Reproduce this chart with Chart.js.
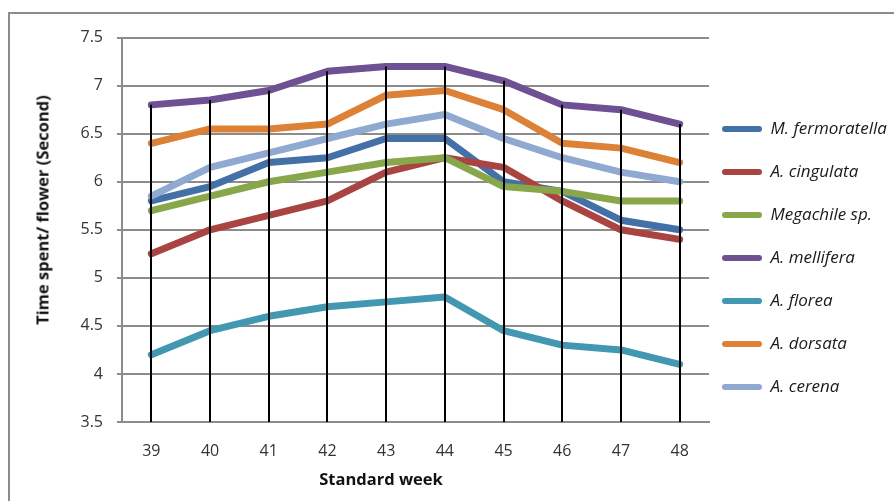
<!DOCTYPE html>
<html>
<head>
<meta charset="utf-8">
<script src="https://cdn.jsdelivr.net/npm/chart.js@4.4.1/dist/chart.umd.min.js"></script>
<style>
  html, body { margin: 0; padding: 0; background: #fff; overflow: hidden; }
  #frame { position: absolute; left: 8px; top: 12px; width: 1000px; height: 600px; border: 2px solid #8c8c8c; box-sizing: border-box; }
  #wrap { position: absolute; left: 10px; top: 14px; width: 884px; height: 487px; }
  .axis-title { position: absolute; font: bold 16.5px 'Open Sans', sans-serif; color: #111; white-space: nowrap; }
  #xTitle { left: 381px; top: 478px; transform: translate(-50%, -50%); }
  #yTitle { left: 42px; top: 210px; transform: translate(-50%, -50%) rotate(-90deg); }
</style>
</head>
<body>
<div id="frame"></div>
<div id="wrap"><canvas id="chart"></canvas></div>
<div class="axis-title" id="xTitle">Standard week</div>
<div class="axis-title" id="yTitle">Time spent/ flower (Second)</div>
<script>
// weeks on the x axis
const weeks = ['39', '40', '41', '42', '43', '44', '45', '46', '47', '48'];

// time spent per flower (seconds)
const mFermoratella = [5.8, 5.95, 6.2, 6.25, 6.45, 6.45, 6.0, 5.9, 5.6, 5.5];
const aCingulata    = [5.25, 5.5, 5.65, 5.8, 6.1, 6.25, 6.15, 5.8, 5.5, 5.4];
const megachile     = [5.7, 5.85, 6.0, 6.1, 6.2, 6.25, 5.95, 5.9, 5.8, 5.8];
const aMellifera    = [6.8, 6.85, 6.95, 7.15, 7.2, 7.2, 7.05, 6.8, 6.75, 6.6];
const aFlorea       = [4.2, 4.45, 4.6, 4.7, 4.75, 4.8, 4.45, 4.3, 4.25, 4.1];
const aDorsata      = [6.4, 6.55, 6.55, 6.6, 6.9, 6.95, 6.75, 6.4, 6.35, 6.2];
const aCerena       = [5.85, 6.15, 6.3, 6.45, 6.6, 6.7, 6.45, 6.25, 6.1, 6.0];

const seriesNames = ['M. fermoratella', 'A. cingulata', 'Megachile sp.', 'A. mellifera', 'A. florea', 'A. dorsata', 'A. cerena'];
const seriesData = [mFermoratella, aCingulata, megachile, aMellifera, aFlorea, aDorsata, aCerena];
const seriesColors = ['#4371a7', '#a94442', '#88a64a', '#6e5192', '#4198b0', '#dd8137', '#8fa9d1'];

Chart.defaults.font.family = "'Open Sans', sans-serif";
Chart.defaults.font.size = 16;
Chart.defaults.color = '#333';

// black drop lines from the highest series down to the axis
const dropLines = {
  id: 'dropLines',
  afterDatasetsDraw(chart) {
    const { ctx, scales: { x, y } } = chart;
    ctx.save();
    ctx.strokeStyle = '#000';
    ctx.lineWidth = 2;
    weeks.forEach((w, i) => {
      const top = Math.max(...chart.data.datasets.map(d => d.data[i]));
      const px = Math.round(x.getPixelForValue(i));
      ctx.beginPath();
      ctx.moveTo(px, y.getPixelForValue(top));
      ctx.lineTo(px, y.bottom);
      ctx.stroke();
    });
    ctx.restore();
  }
};

// nudge legend so it sits where excel put it (right edge stays, text runs off the page)
const legendShift = {
  id: 'legendShift',
  afterLayout(chart) {
    const l = chart.legend;
    l.left -= 13;
    l.top -= 11; l.bottom -= 11;
  }
};

const ctx = document.getElementById('chart').getContext('2d');
new Chart(ctx, {
  type: 'line',
  data: {
    labels: weeks,
    datasets: seriesNames.map((name, i) => ({
      label: name,
      data: seriesData[i],
      borderColor: seriesColors[i],
      backgroundColor: seriesColors[i],
      borderWidth: 7,
      pointRadius: 0,
      borderCapStyle: 'round',
      borderJoinStyle: 'round',
      tension: 0,
      fill: false,
      order: -i
    }))
  },
  options: {
    responsive: true,
    maintainAspectRatio: false,
    animation: false,
    layout: { padding: { top: 23, left: 0, right: 0, bottom: 0 } },
    plugins: {
      tooltip: { enabled: false },
      legend: {
        position: 'right',
        maxWidth: 185,
        labels: {
          boxWidth: 40,
          boxHeight: 6,
          useBorderRadius: true,
          borderRadius: 3,
          padding: 26,
          color: '#1a1a1a',
          font: { size: 17, style: 'italic' },
          sort: (a, b) => a.datasetIndex - b.datasetIndex,
          generateLabels(chart) {
            return Chart.defaults.plugins.legend.labels.generateLabels(chart)
              .map(l => ({ ...l, fillStyle: l.strokeStyle, lineWidth: 0 }));
          }
        }
      }
    },
    scales: {
      x: {
        offset: true,
        grid: { display: false },
        border: { display: true, color: '#8c8c8c', width: 2 },
        ticks: { padding: 12, color: '#333' },
        afterFit(scale) { scale.height = 79; }
      },
      y: {
        min: 3.5,
        max: 7.5,
        ticks: { stepSize: 0.5, padding: 14, color: '#333', callback: v => String(v) },
        grid: { color: '#8c8c8c', lineWidth: 2, tickLength: 5 },
        border: { display: true, color: '#8c8c8c', width: 2 },
        afterFit(scale) { scale.width = 112; }
      }
    }
  },
  plugins: [dropLines, legendShift]
});
</script>
</body>
</html>
